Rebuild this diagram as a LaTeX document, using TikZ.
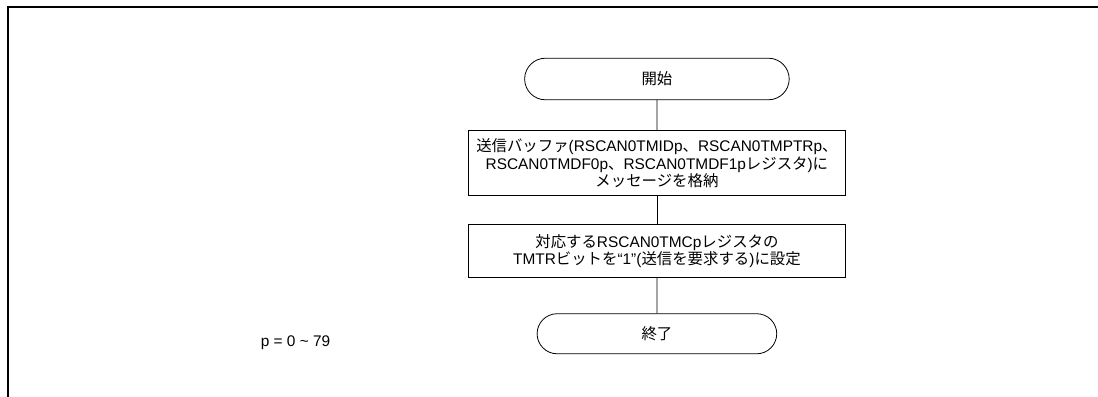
\documentclass[tikz,border=0pt]{standalone}
\usepackage{fontspec}
\setmainfont{Liberation Sans}
\newfontfamily\jpfont{Noto Sans CJK JP}
\newcommand{\ja}[1]{{\jpfont #1}}
\usetikzlibrary{positioning, shapes.misc}

\begin{document}
\begin{tikzpicture}[
      terminal/.style={rounded rectangle, draw, line width=0.6pt, minimum height=1.1cm,
        font=\fontsize{11.6}{13.2}\selectfont, inner sep=2pt},
      process/.style={rectangle, draw, line width=0.6pt, minimum width=9.95cm,
        font=\fontsize{11.6}{13.2}\selectfont, align=center, inner sep=2pt},
      link/.style={draw, line width=0.6pt},
      frame/.style={line width=1.5pt},
      note/.style={font=\fontsize{11.6}{13.2}\selectfont}
    ]
    \useasboundingbox (0,0) rectangle (29.05,10.50);
    \draw[frame] (0.21,0) -- (0.21,10.31) -- (29.05,10.31);

    \node[terminal, minimum width=7.14cm] (start) at (17.38,8.41) {\ja{開始}};
    \node[process, minimum height=1.72cm] (store) at (17.38,6.18)
      {\ja{送信バッファ}(RSCAN0TMIDp\ja{、}RSCAN0TMPTRp\ja{、}\\
       RSCAN0TMDF0p\ja{、}RSCAN0TMDF1p\ja{レジスタ})\ja{に}\\
       \ja{メッセージを格納}};
    \node[process, minimum height=1.40cm] (request) at (17.38,3.85)
      {\ja{対応する}RSCAN0TMCp\ja{レジスタの}\\
       TMTR\ja{ビットを}“1”(\ja{送信を要求する})\ja{に設定}};
    \node[terminal, minimum width=6.48cm, minimum height=1.06cm] (stop) at (17.38,1.67) {\ja{終了}};

    \node[note] (range) at (7.82,1.43) {p = 0 \textasciitilde{} 79};

    \path[link] (start) edge (store);
    \path[link] (store) edge (request);
    \path[link] (request) edge (stop);
  \end{tikzpicture}
\end{document}
